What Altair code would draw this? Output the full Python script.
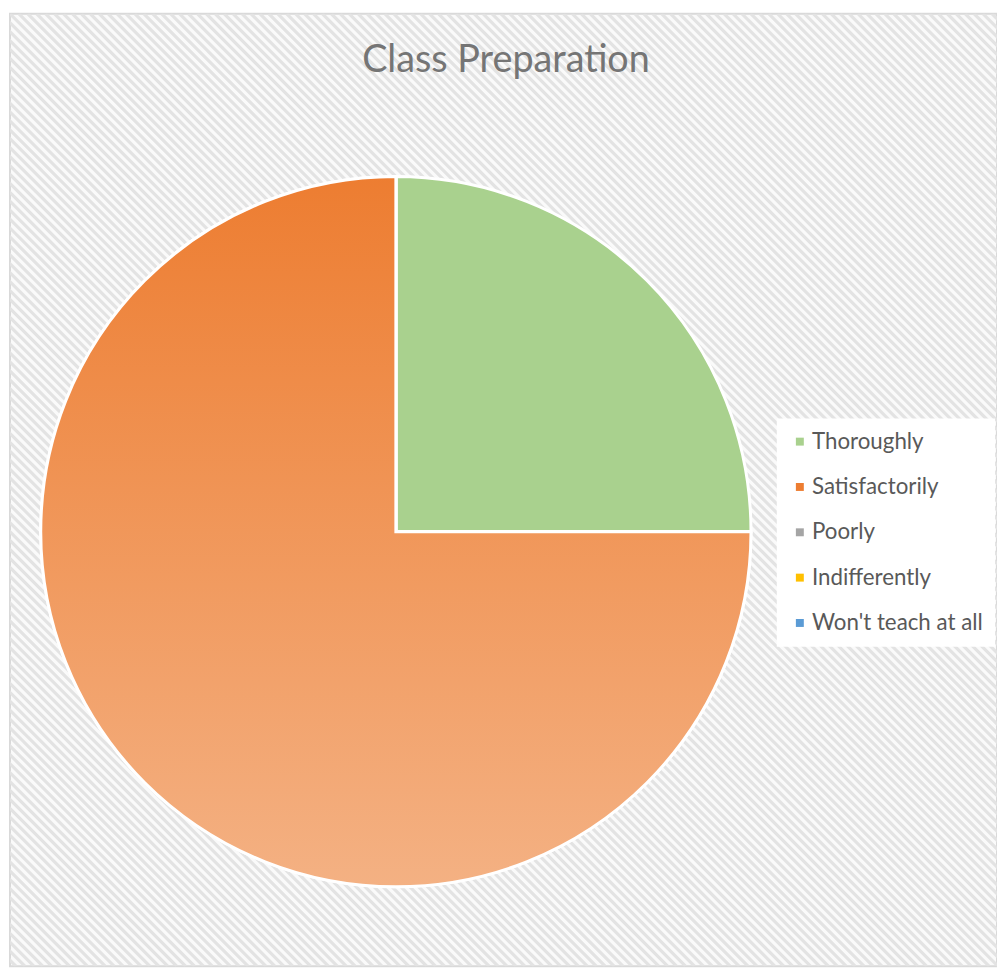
import altair as alt
import pandas as pd

categories = ["Thoroughly", "Satisfactorily", "Poorly", "Indifferently", "Won't teach at all"]
values = [25, 75, 0, 0, 0]
colors = ["#A9D18E", "#ED7D31", "#A5A5A5", "#FFC000", "#5B9BD5"]
title_text = "Class Preparation"

df = pd.DataFrame({"category": categories, "value": values, "idx": list(range(len(categories)))})

W, H = 995, 960
CX, CY, R = 389, 522, 358
STEP = 9

# decorative diagonal hatch of the chart background
hatch = alt.Chart(alt.sequence(-115, 120, as_="k")).transform_calculate(
    x0=f"datum.k * {STEP}", x1=f"datum.k * {STEP} + {H}", y0="0", y1=str(H)
).mark_rule(stroke="#e3e3e3", strokeWidth=3.2, clip=True).encode(
    x=alt.X("x0:Q", scale=None), x2="x1:Q",
    y=alt.Y("y0:Q", scale=None), y2="y1:Q",
)

base = alt.Chart(df).encode(
    theta=alt.Theta("value:Q", stack=True),
    order=alt.Order("idx:Q"),
)

pie = base.mark_arc(radius=R, stroke="white", strokeWidth=3).encode(
    x=alt.value(CX), y=alt.value(CY),
    color=alt.Color(
        "category:N",
        scale=alt.Scale(domain=categories, range=colors),
        sort=categories,
        legend=alt.Legend(
            title=None, orient="none", legendX=773, legendY=408,
            symbolType="square", symbolSize=64, symbolStrokeWidth=0,
            labelFontSize=22.5, labelFont="Lato", labelColor="#595959",
            labelLimit=400, rowPadding=22.7, fillColor="white",
            padding=12, labelOffset=1,
        ),
    ),
)

grad = alt.Gradient(
    gradient="linear", x1=0, x2=0, y1=0, y2=1,
    stops=[alt.GradientStop(offset=0, color="#ED7D31"),
           alt.GradientStop(offset=1, color="#F4B183")],
)

orange = base.mark_arc(radius=R, stroke="white", strokeWidth=3, fill=grad).encode(
    x=alt.value(CX), y=alt.value(CY),
    opacity=alt.condition(alt.datum.category == "Satisfactorily", alt.value(1), alt.value(0)),
)

title = alt.Chart(pd.DataFrame({"t": [title_text]})).mark_text(
    fontSize=38, font="Lato", color="#757575", baseline="middle", align="center"
).encode(text="t:N", x=alt.value(500), y=alt.value(48))

chart = alt.layer(hatch, pie, orange, title).properties(
    width=W, height=H, padding={"left": 2, "top": 2, "right": 0, "bottom": 0},
    autosize=alt.AutoSizeParams(type="none"),
).configure_view(fill="#fafafa", stroke="#d9d9d9", strokeWidth=2)

chart.save("out.html", embed_options={"renderer": "svg", "actions": False})
